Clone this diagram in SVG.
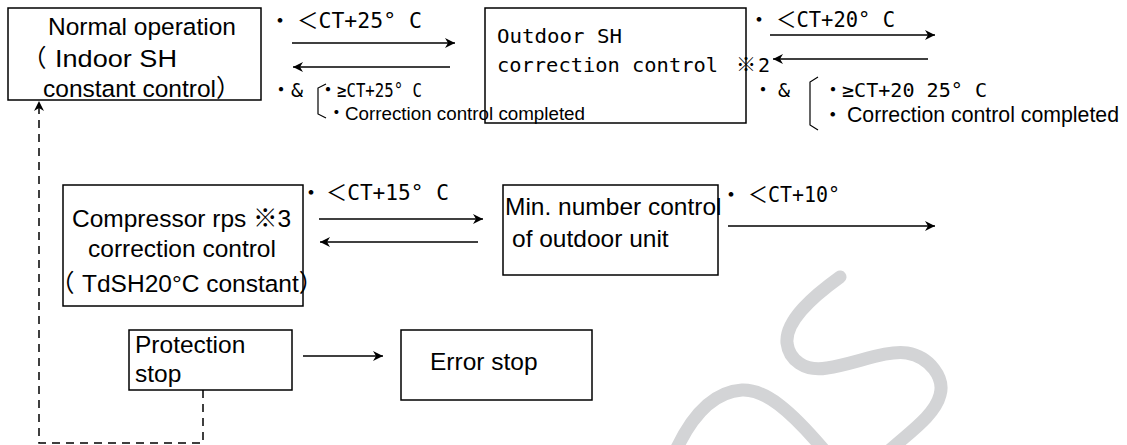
<svg xmlns="http://www.w3.org/2000/svg" width="1127" height="445" viewBox="0 0 1127 445">
<style>
.box{fill:none;stroke:#000;stroke-width:1.5}
.t{font-family:"Liberation Sans","Noto Sans CJK JP",sans-serif;font-size:24.5px;fill:#000}
.m{font-family:"DejaVu Sans Mono","Noto Sans CJK JP",monospace;font-size:20px;fill:#000}
.l{font-family:"DejaVu Sans Mono","Noto Sans CJK JP",monospace;font-size:22px;fill:#000}
.s{font-family:"Liberation Sans","Noto Sans CJK JP",sans-serif;fill:#000}
.c{stroke:#000;stroke-width:1.5;fill:none;marker-end:url(#ah)}
.d{stroke:#000;stroke-width:1.5;fill:none;stroke-dasharray:8 6;marker-end:url(#ah)}
.br{stroke:#000;stroke-width:1.2;fill:none}
.wm{stroke:#d3d4d6;stroke-width:13;fill:none;stroke-linecap:round}
</style>
<defs>
<marker id="ah" markerUnits="userSpaceOnUse" markerWidth="11" markerHeight="10" refX="10" refY="5" orient="auto">
<path d="M0,0 L10,5 L0,10 L3,5 z" fill="#000"/>
</marker>
</defs>
<g id="watermark">
<path class="wm" d="M840,277 C815,295 785,320 787,343 C789,360 805,372 827,368 C855,364 885,350 907,353 C930,357 945,378 940,395 C935,415 910,432 890,450"/>
<path class="wm" d="M676,450 C690,420 710,392 742,390 C765,389 790,410 824,450"/>
</g>
<g id="normal">
<rect class="box" x="8" y="8" width="253" height="92"/>
<text class="t" x="48" y="35">Normal operation</text>
<text class="t" y="67"><tspan x="22">（</tspan><tspan x="55" textLength="122" lengthAdjust="spacingAndGlyphs">Indoor SH</tspan></text>
<text class="t" x="43" y="97">constant control）</text>
</g>
<g id="outdoor">
<rect class="box" x="485" y="8" width="261" height="115"/>
<text class="m" x="497" y="43" textLength="125" lengthAdjust="spacingAndGlyphs">Outdoor SH</text>
<text class="m" y="72"><tspan x="497" textLength="221" lengthAdjust="spacingAndGlyphs">correction control</tspan><tspan x="736">※</tspan><tspan x="758">2</tspan></text>
</g>
<g id="compressor">
<rect class="box" x="63" y="185" width="240" height="121"/>
<text class="t" x="72" y="227">Compressor rps ※3</text>
<text class="t" x="88" y="257">correction control</text>
<text class="t" y="292"><tspan x="50">（</tspan><tspan x="82">TdSH20°C constant</tspan>）</text>
</g>
<g id="minnum">
<rect class="box" x="503" y="185" width="215" height="90"/>
<text class="t" x="505" y="215">Min. number control</text>
<text class="t" x="512" y="247">of outdoor unit</text>
</g>
<g id="protection">
<rect class="box" x="129" y="330" width="163" height="60"/>
<text class="t" x="135" y="353">Protection</text>
<text class="t" x="135" y="382">stop</text>
</g>
<g id="error">
<rect class="box" x="401" y="330" width="191" height="70"/>
<text class="t" x="430" y="370">Error stop</text>
</g>
<g id="connectors">
<line class="c" x1="292" y1="43" x2="455" y2="43"/>
<line class="c" x1="450" y1="67" x2="293" y2="67"/>
<line class="c" x1="770" y1="35" x2="935" y2="35"/>
<line class="c" x1="928" y1="59" x2="773" y2="59"/>
<line class="c" x1="319" y1="219" x2="483" y2="219"/>
<line class="c" x1="478" y1="242" x2="320" y2="242"/>
<line class="c" x1="728" y1="226" x2="935" y2="226"/>
<line class="c" x1="303" y1="356" x2="383" y2="356"/>
<path class="d" d="M203,390 V443 H39 V101"/>
</g>
<g id="labels">
<text class="l" y="28"><tspan x="269">・</tspan><tspan x="297" textLength="125" lengthAdjust="spacingAndGlyphs">＜CT+25° C</tspan></text>
<text class="m" y="97"><tspan x="271">・</tspan><tspan x="291">&amp;</tspan><tspan x="318">・</tspan><tspan x="337" textLength="85" lengthAdjust="spacingAndGlyphs">≥CT+25° C</tspan></text>
<path class="br" d="M326,84 L318,88 V114 L326,118"/>
<text class="s" y="120" style="font-size:18.8px"><tspan x="327">・</tspan><tspan x="345" textLength="240" lengthAdjust="spacingAndGlyphs">Correction control completed</tspan></text>
<text class="l" y="27"><tspan x="748">・</tspan><tspan x="776" textLength="119" lengthAdjust="spacingAndGlyphs">＜CT+20° C</tspan></text>
<text class="m" y="97"><tspan x="753">・</tspan><tspan x="778">&amp;</tspan><tspan x="823">・</tspan><tspan x="842" textLength="145" lengthAdjust="spacingAndGlyphs">≥CT+20 25° C</tspan></text>
<path class="br" d="M818,77 L810,82 V125 L818,130"/>
<text class="s" y="122" style="font-size:21.5px"><tspan x="822">・</tspan><tspan x="847" textLength="272" lengthAdjust="spacingAndGlyphs">Correction control completed</tspan></text>
<text class="l" y="200"><tspan x="300">・</tspan><tspan x="326" textLength="123" lengthAdjust="spacingAndGlyphs">＜CT+15° C</tspan></text>
<text class="l" y="202"><tspan x="720">・</tspan><tspan x="748" textLength="92" lengthAdjust="spacingAndGlyphs">＜CT+10°</tspan></text>
</g>
</svg>
